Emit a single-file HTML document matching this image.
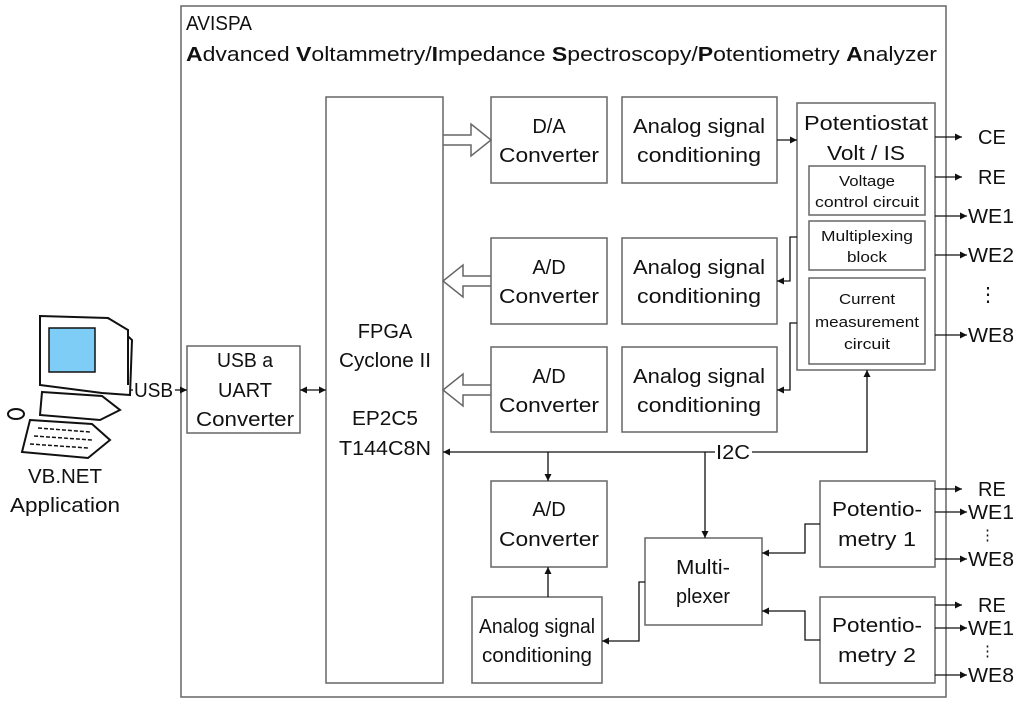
<!DOCTYPE html>
<html><head><meta charset="utf-8"><style>
html,body{margin:0;padding:0;background:#fff}
svg{display:block}
text{font-family:"Liberation Sans",sans-serif;fill:#111}
</style></head><body>
<svg width="1024" height="707" viewBox="0 0 1024 707" xmlns="http://www.w3.org/2000/svg">
<defs>
<marker id="a" viewBox="0 0 10 10" refX="10" refY="5" markerWidth="7" markerHeight="7" orient="auto-start-reverse" markerUnits="userSpaceOnUse"><path d="M0,0 L10,5 L0,10 z" fill="#111"/></marker>
</defs>
<g fill="none" stroke="#666" stroke-width="1.5">
<rect x="181" y="6" width="765" height="691"/>
<rect x="187" y="346" width="113" height="87"/>
<rect x="326" y="97" width="117" height="586"/>
<rect x="491" y="97" width="116" height="86"/>
<rect x="622" y="97" width="155" height="86"/>
<rect x="797" y="103" width="138" height="267"/>
<rect x="809" y="166" width="116" height="49"/>
<rect x="809" y="221" width="116" height="49"/>
<rect x="809" y="278" width="116" height="86"/>
<rect x="491" y="238" width="116" height="86"/>
<rect x="622" y="238" width="155" height="86"/>
<rect x="491" y="347" width="116" height="85"/>
<rect x="622" y="347" width="155" height="85"/>
<rect x="491" y="481" width="116" height="86"/>
<rect x="472" y="597" width="130" height="86"/>
<rect x="645" y="538" width="117" height="87"/>
<rect x="820" y="481" width="115" height="86"/>
<rect x="820" y="597" width="115" height="86"/>
<path d="M443,135 H471 V124 L491,140 L471,156 V145 H443" />
<path d="M491,276 H463 V265 L443,281 L463,297 V286 H491" />
<path d="M491,385 H463 V374 L443,390 L463,406 V395 H491" />
</g>
<g fill="none" stroke="#111" stroke-width="1.3">
<line x1="300" y1="390" x2="326" y2="390" marker-start="url(#a)" marker-end="url(#a)"/>
<line x1="122" y1="390" x2="133" y2="390" marker-start="url(#a)"/>
<line x1="175" y1="390" x2="187" y2="390" marker-end="url(#a)"/>
<line x1="777" y1="140" x2="797" y2="140" marker-end="url(#a)"/>
<path d="M797,237 H790 V281 H777" marker-end="url(#a)"/>
<path d="M797,323 H790 V390 H777" marker-end="url(#a)"/>
<path d="M715,452 H443" marker-end="url(#a)"/>
<path d="M752,452 H867 V370" marker-end="url(#a)"/>
<path d="M548,452 V481" marker-end="url(#a)"/>
<path d="M705,452 V538" marker-end="url(#a)"/>
<path d="M548,597 V567" marker-end="url(#a)"/>
<path d="M645,582 H639 V641 H602" marker-end="url(#a)"/>
<path d="M820,524 H805 V553 H762" marker-end="url(#a)"/>
<path d="M820,640 H805 V611 H762" marker-end="url(#a)"/>
<line x1="935" y1="137" x2="962" y2="137" marker-end="url(#a)"/>
<line x1="935" y1="177" x2="962" y2="177" marker-end="url(#a)"/>
<line x1="935" y1="216" x2="967" y2="216" marker-end="url(#a)"/>
<line x1="935" y1="255" x2="967" y2="255" marker-end="url(#a)"/>
<line x1="935" y1="335" x2="967" y2="335" marker-end="url(#a)"/>
<line x1="935" y1="489" x2="962" y2="489" marker-end="url(#a)"/>
<line x1="935" y1="512" x2="967" y2="512" marker-end="url(#a)"/>
<line x1="935" y1="559" x2="967" y2="559" marker-end="url(#a)"/>
<line x1="935" y1="605" x2="962" y2="605" marker-end="url(#a)"/>
<line x1="935" y1="628" x2="967" y2="628" marker-end="url(#a)"/>
<line x1="935" y1="675" x2="967" y2="675" marker-end="url(#a)"/>
</g>
<g stroke="#111" stroke-width="2" fill="#fff">
<path d="M40,316 L108,318 L132,340 L130,395 L102,393 L40,385 Z"/>
<path d="M108,318 L128,330 L128,385"/>
<rect x="49" y="328" width="46" height="44" fill="#7ecdf6" stroke-width="1.5"/>
<path d="M42,392 L102,396 L120,410 L100,420 L40,415 Z"/>
<path d="M30,420 L92,424 L110,440 L88,458 L22,452 Z"/>
<path d="M38,428 L90,432 M34,436 L92,440 M30,444 L88,448" stroke-dasharray="4 2" stroke-width="1.5"/>
<ellipse cx="16" cy="414" rx="8" ry="5"/>
</g>
<g font-size="20">
<text x="134" y="397" textLength="39" lengthAdjust="spacingAndGlyphs">USB</text>
<text x="65" y="483" text-anchor="middle" textLength="74" lengthAdjust="spacingAndGlyphs">VB.NET</text>
<text x="65" y="512" text-anchor="middle" textLength="110" lengthAdjust="spacingAndGlyphs">Application</text>
<text x="245" y="367" text-anchor="middle" textLength="56" lengthAdjust="spacingAndGlyphs">USB a</text>
<text x="245" y="397" text-anchor="middle" textLength="54" lengthAdjust="spacingAndGlyphs">UART</text>
<text x="245" y="426" text-anchor="middle" textLength="98" lengthAdjust="spacingAndGlyphs">Converter</text>
<text x="385" y="338" text-anchor="middle">FPGA</text>
<text x="385" y="367" text-anchor="middle" textLength="92" lengthAdjust="spacingAndGlyphs">Cyclone II</text>
<text x="385" y="425" text-anchor="middle" textLength="66" lengthAdjust="spacingAndGlyphs">EP2C5</text>
<text x="385" y="455" text-anchor="middle" textLength="92" lengthAdjust="spacingAndGlyphs">T144C8N</text>
</g>
<g font-size="20" text-anchor="middle">
<text x="549" y="133">D/A</text>
<text x="549" y="162" textLength="100" lengthAdjust="spacingAndGlyphs">Converter</text>
<text x="699" y="133" textLength="132" lengthAdjust="spacingAndGlyphs">Analog signal</text>
<text x="699" y="162" textLength="124" lengthAdjust="spacingAndGlyphs">conditioning</text>
<text x="549" y="274">A/D</text>
<text x="549" y="303" textLength="100" lengthAdjust="spacingAndGlyphs">Converter</text>
<text x="699" y="274" textLength="132" lengthAdjust="spacingAndGlyphs">Analog signal</text>
<text x="699" y="303" textLength="124" lengthAdjust="spacingAndGlyphs">conditioning</text>
<text x="549" y="383">A/D</text>
<text x="549" y="412" textLength="100" lengthAdjust="spacingAndGlyphs">Converter</text>
<text x="699" y="383" textLength="132" lengthAdjust="spacingAndGlyphs">Analog signal</text>
<text x="699" y="412" textLength="124" lengthAdjust="spacingAndGlyphs">conditioning</text>
<text x="549" y="516">A/D</text>
<text x="549" y="546" textLength="100" lengthAdjust="spacingAndGlyphs">Converter</text>
<text x="537" y="633" textLength="116" lengthAdjust="spacingAndGlyphs">Analog signal</text>
<text x="537" y="662" textLength="110" lengthAdjust="spacingAndGlyphs">conditioning</text>
<text x="703" y="574" textLength="54" lengthAdjust="spacingAndGlyphs">Multi-</text>
<text x="703" y="603" textLength="54" lengthAdjust="spacingAndGlyphs">plexer</text>
<text x="877" y="516" textLength="90" lengthAdjust="spacingAndGlyphs">Potentio-</text>
<text x="877" y="546" textLength="78" lengthAdjust="spacingAndGlyphs">metry 1</text>
<text x="877" y="632" textLength="90" lengthAdjust="spacingAndGlyphs">Potentio-</text>
<text x="877" y="662" textLength="78" lengthAdjust="spacingAndGlyphs">metry 2</text>
<text x="866" y="130" textLength="124" lengthAdjust="spacingAndGlyphs">Potentiostat</text>
<text x="866" y="160" textLength="78" lengthAdjust="spacingAndGlyphs">Volt / IS</text>
<g font-size="15">
<text x="867" y="186" textLength="56" lengthAdjust="spacingAndGlyphs">Voltage</text>
<text x="867" y="207" textLength="104" lengthAdjust="spacingAndGlyphs">control circuit</text>
<text x="867" y="241" textLength="92" lengthAdjust="spacingAndGlyphs">Multiplexing</text>
<text x="867" y="262" textLength="40" lengthAdjust="spacingAndGlyphs">block</text>
<text x="867" y="304" textLength="56" lengthAdjust="spacingAndGlyphs">Current</text>
<text x="867" y="327" textLength="104" lengthAdjust="spacingAndGlyphs">measurement</text>
<text x="867" y="349" textLength="46" lengthAdjust="spacingAndGlyphs">circuit</text>
</g>
</g>
<g font-size="20">
<text x="978" y="144">CE</text>
<text x="978" y="184">RE</text>
<text x="968" y="223" textLength="46" lengthAdjust="spacingAndGlyphs">WE1</text>
<text x="968" y="262" textLength="46" lengthAdjust="spacingAndGlyphs">WE2</text>
<text x="978" y="301">⋮</text>
<text x="968" y="342" textLength="46" lengthAdjust="spacingAndGlyphs">WE8</text>
<text x="978" y="496">RE</text>
<text x="968" y="519" textLength="46" lengthAdjust="spacingAndGlyphs">WE1</text>
<text x="980" y="540" font-size="15">⋮</text>
<text x="968" y="566" textLength="46" lengthAdjust="spacingAndGlyphs">WE8</text>
<text x="978" y="612">RE</text>
<text x="968" y="635" textLength="46" lengthAdjust="spacingAndGlyphs">WE1</text>
<text x="980" y="656" font-size="15">⋮</text>
<text x="968" y="682" textLength="46" lengthAdjust="spacingAndGlyphs">WE8</text>
<text x="716" y="459" textLength="34" lengthAdjust="spacingAndGlyphs">I2C</text>
</g>
<text x="186" y="30" font-size="20" textLength="66" lengthAdjust="spacingAndGlyphs">AVISPA</text>
<text x="186" y="61" font-size="20" textLength="751" lengthAdjust="spacingAndGlyphs"><tspan font-weight="bold">A</tspan>dvanced <tspan font-weight="bold">V</tspan>oltammetry/<tspan font-weight="bold">I</tspan>mpedance <tspan font-weight="bold">S</tspan>pectroscopy/<tspan font-weight="bold">P</tspan>otentiometry  <tspan font-weight="bold">A</tspan>nalyzer</text>
</svg>
</body></html>
